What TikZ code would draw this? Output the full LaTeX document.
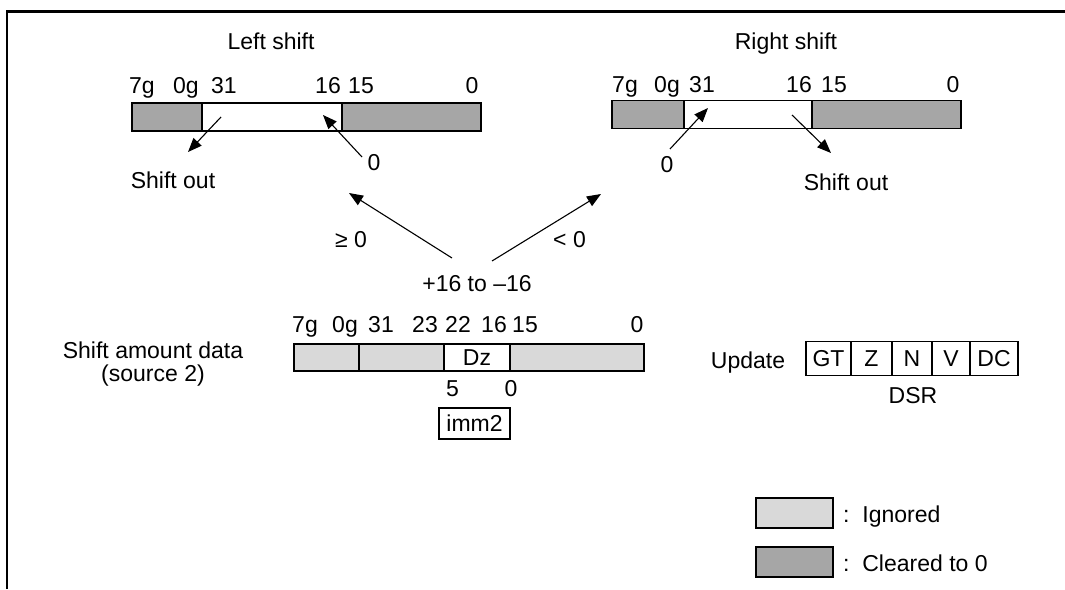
\documentclass[tikz,border=0pt]{standalone}
\usepackage{fontspec}
\setmainfont{Liberation Sans}
\usetikzlibrary{arrows.meta}

\definecolor{cleared}{gray}{0.65}
\definecolor{ignored}{gray}{0.85}

\begin{document}
\begin{tikzpicture}[x=1pt,y=-1pt,
  every node/.style={font=\fontsize{23}{27}\selectfont, inner sep=0pt},
  lbl/.style={anchor=base},
  field/.style={draw, line width=1.3pt, minimum width=#1, minimum height=28pt},
  flag/.style={draw, line width=1.3pt, minimum width=#1, minimum height=34pt},
  ptr/.style={-{Triangle[length=14pt,width=11pt]}, line width=1.1pt}]
\useasboundingbox (0,0) rectangle (1065,589);
\draw[line width=2.4pt] (6.8,589) |- (1065,11.5);

% left shift
\node[lbl] (ltitle) at (271,49) {Left shift};
\node[field=70pt, fill=cleared] (lguard) at (167,117) {};
\node[field=140pt, fill=white] (lhigh) at (272,117) {};
\node[field=139pt, fill=cleared] (llow) at (411.5,117) {};
\foreach \t/\x in {7g/142,0g/186,31/224,16/328,15/361,0/472}
  \node[lbl] (l\t) at (\x,93) {\t};
\node[lbl] (lout) at (173,188) {Shift out};
\node[lbl] (lzero) at (374,170) {0};
\coordinate (lfrom) at (221,117);
\coordinate (lto) at (188,152);
\coordinate (lzfrom) at (362,157);
\coordinate (lzto) at (323,115);
\draw[ptr] (lfrom) -- (lto);
\draw[ptr] (lzfrom) -- (lzto);

% right shift
\node[lbl] (rtitle) at (786,49) {Right shift};
\node[field=72pt, fill=cleared] (rguard) at (648,114.5) {};
\node[field=128pt, fill=white] (rhigh) at (748,114.5) {};
\node[field=149pt, fill=cleared] (rlow) at (886.5,114.5) {};
\foreach \t/\x in {7g/625,0g/667,31/702,16/799,15/834,0/953}
  \node[lbl] (r\t) at (\x,92) {\t};
\node[lbl] (rout) at (846,190) {Shift out};
\node[lbl] (rzero) at (667,172) {0};
\coordinate (rzfrom) at (670,149);
\coordinate (rzto) at (708,108);
\coordinate (rfrom) at (792,115);
\coordinate (rto) at (831,153);
\draw[ptr] (rzfrom) -- (rzto);
\draw[ptr] (rfrom) -- (rto);

% sign of the shift amount
\node[lbl] (range) at (477,291) {+16 to --16};
\node[lbl] (ge) at (351,247) {≥ 0};
\node[lbl] (lt) at (569.5,247) {< 0};
\coordinate (gefrom) at (452,258);
\coordinate (geto) at (349,193);
\coordinate (ltfrom) at (492,261);
\coordinate (ltto) at (601,194);
\draw[ptr] (gefrom) -- (geto);
\draw[ptr] (ltfrom) -- (ltto);

% shift amount data
\node[lbl] (src1) at (153,358) {Shift amount data};
\node[lbl] (src2) at (153,381) {(source 2)};
\node[field=65pt, minimum height=27pt, fill=ignored] (mguard) at (326.5,357.5) {};
\node[field=85pt, minimum height=27pt, fill=ignored] (mhigh) at (401.5,357.5) {};
\node[field=66pt, minimum height=27pt, fill=white] (dz) at (477,357.5) {Dz};
\node[field=134pt, minimum height=27pt, fill=ignored] (mlow) at (577,357.5) {};
\foreach \t/\x in {7g/305,0g/345,31/381,23/425,22/458,16/494,15/525,0/637}
  \node[lbl] (m\t) at (\x,332) {\t};
\node[lbl] (imm5) at (452.5,396) {5};
\node[lbl] (imm0) at (511,396) {0};
\node[draw, line width=1.3pt, minimum width=71pt, minimum height=31pt] (imm) at (474.5,423.5) {imm2};

% DSR
\node[lbl] (upd) at (748,368) {Update};
\node[flag=45pt] (gt) at (828.5,358.7) {GT};
\node[flag=41pt] (z) at (871.5,358.7) {Z};
\node[flag=40pt] (n) at (912,358.7) {N};
\node[flag=38pt] (v) at (951,358.7) {V};
\node[flag=48pt] (dc) at (994,358.7) {DC};
\node[lbl] (dsr) at (913,403) {DSR};

% legend
\node[field=77pt, minimum height=30pt, fill=ignored] (keyign) at (794.5,513) {};
\node[anchor=base west] (txtign) at (843,522) {:\ \ Ignored};
\node[field=77pt, minimum height=30pt, fill=cleared] (keyclr) at (794.5,562) {};
\node[anchor=base west] (txtclr) at (843,571) {:\ \ Cleared to 0};
\end{tikzpicture}
\end{document}
